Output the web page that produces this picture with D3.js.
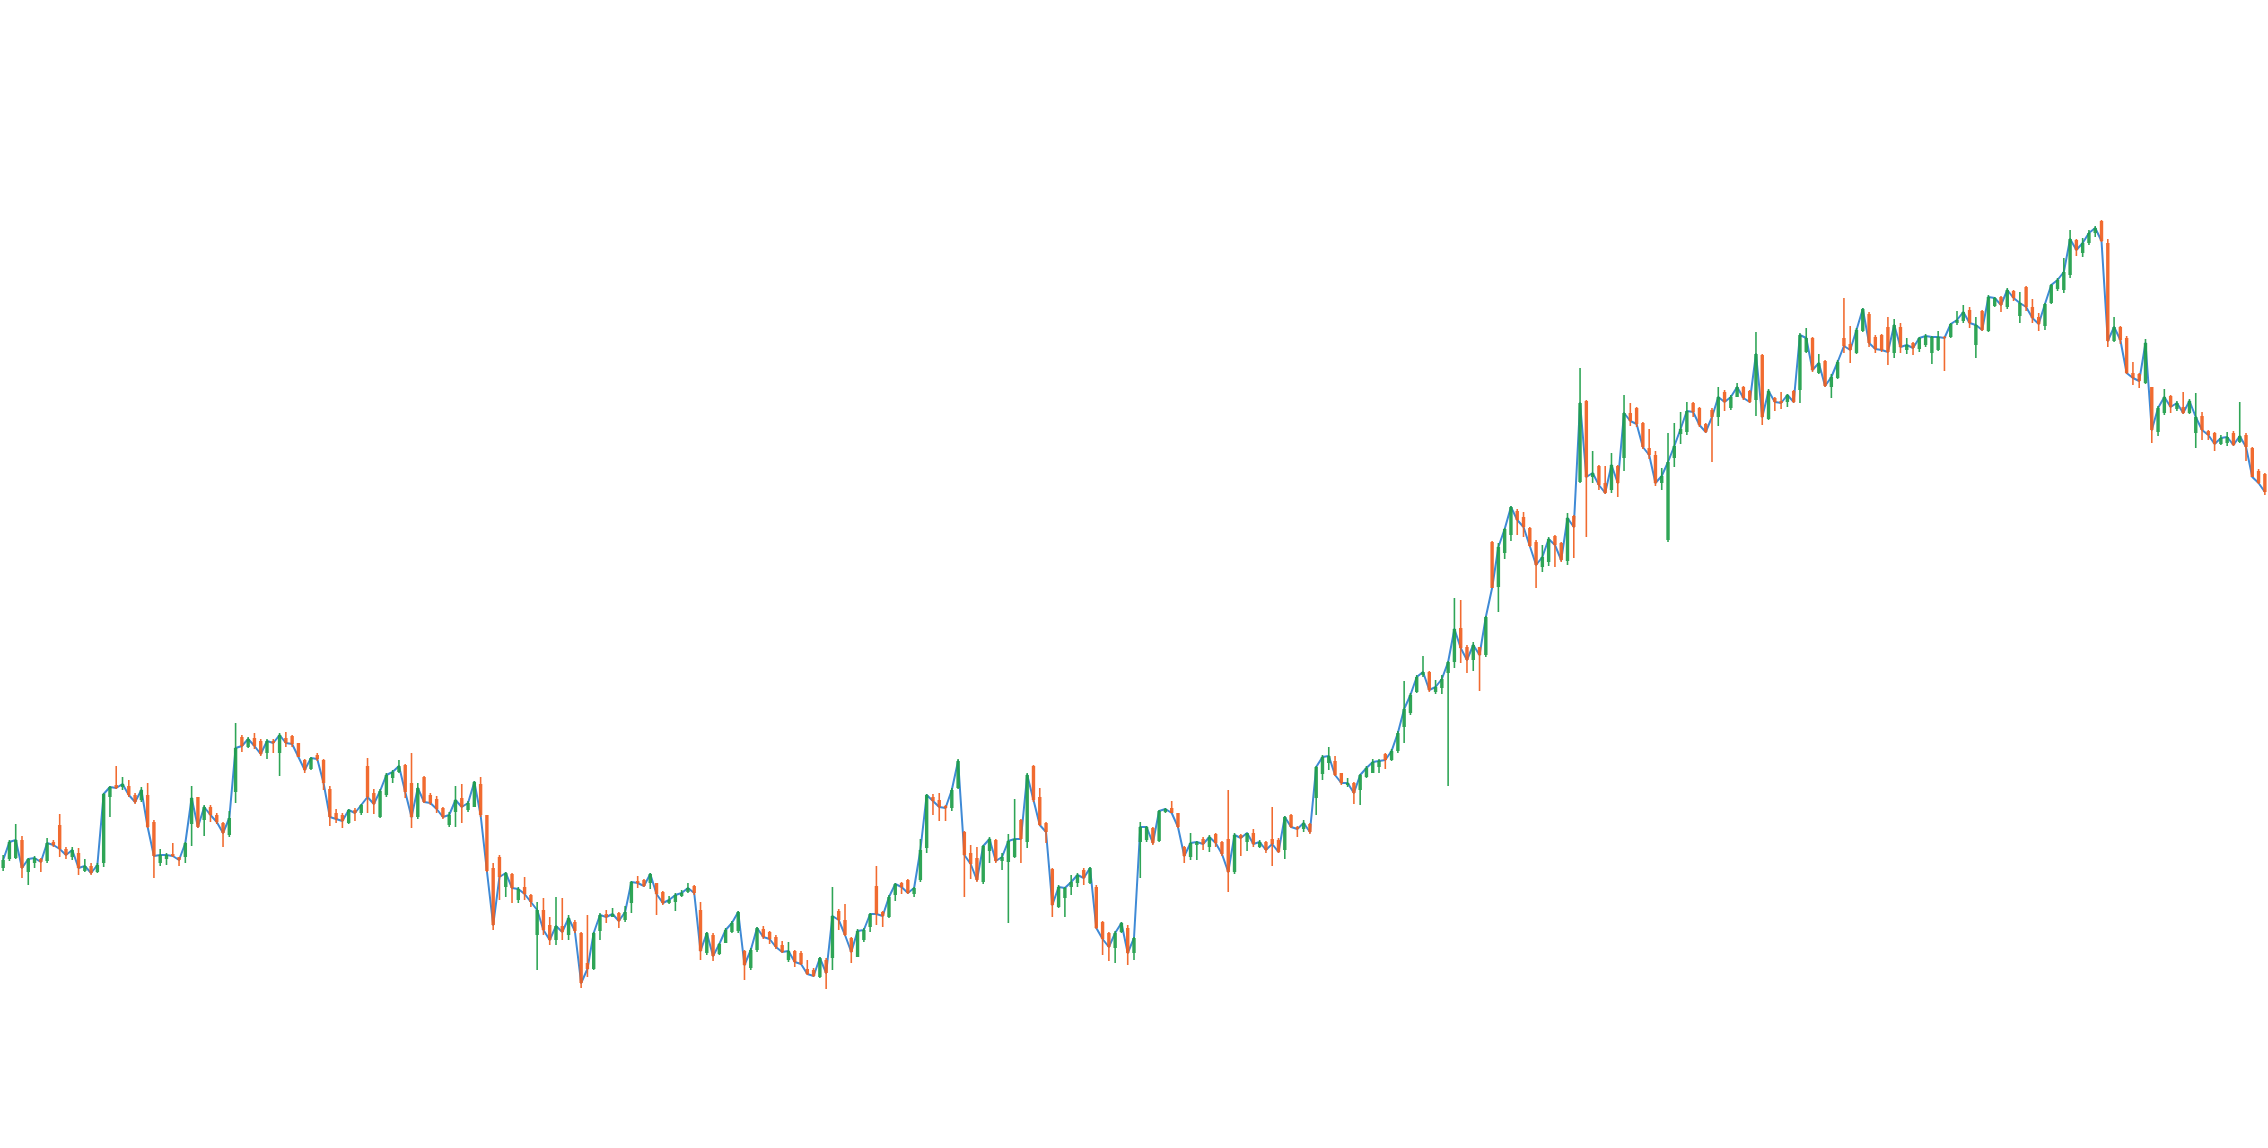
<!DOCTYPE html>
<html>
<head>
<meta charset="utf-8">
<script src="https://cdn.jsdelivr.net/npm/d3@7"></script>
<style>
  body { margin: 0; background: #fff; }
</style>
</head>
<body>
<div id="canvas"></div>
<script>
// daily prices (no axis shown)
const open = [
  13.2, 14.1, 14.2, 16.0, 12.8, 13.7, 14.1, 13.9, 15.8, 17.5,
  15.1, 14.3, 14.7, 12.9, 13.4, 12.8, 13.7, 20.3, 21.5, 21.3,
  21.4, 20.5, 20.0, 20.5, 17.8, 13.7, 14.1, 14.6, 14.3, 14.3,
  17.6, 20.3, 18.0, 19.3, 18.5, 17.7, 16.5, 20.8, 26.3, 25.3,
  26.2, 25.9, 24.7, 25.9, 24.7, 26.2, 26.4, 25.7, 24.0, 23.1,
  24.5, 24.0, 21.1, 18.7, 18.5, 17.7, 19.0, 18.7, 23.4, 20.7,
  18.3, 20.5, 22.2, 22.8, 23.5, 21.7, 18.3, 22.3, 20.5, 20.1,
  19.2, 17.5, 18.8, 20.2, 19.0, 19.3, 21.6, 18.5, 13.2, 14.3,
  11.3, 12.6, 10.0, 11.3, 10.5, 6.5, 9.0, 7.5, 6.0, 7.4,
  6.5, 7.8, 6.7, 3.7, 3.1, 6.9, 8.6, 8.3, 8.7, 8.0,
  9.7, 11.9, 12.0, 11.7, 11.7, 10.8, 9.7, 9.8, 10.4, 10.8,
  11.4, 9.0, 4.7, 6.5, 4.6, 5.7, 6.8, 6.9, 4.9, 3.2,
  5.0, 7.1, 6.8, 6.3, 5.5, 4.0, 4.9, 4.7, 3.1, 3.0,
  2.3, 4.0, 4.2, 8.9, 8.0, 6.2, 4.3, 6.0, 7.3, 11.4,
  8.8, 8.3, 10.5, 11.7, 12.0, 10.6, 12.0, 15.2, 20.3, 20.0,
  19.4, 19.2, 21.2, 16.8, 14.7, 14.2, 11.8, 14.9, 16.0, 13.9,
  13.8, 14.3, 18.0, 15.8, 23.4, 20.3, 17.7, 13.1, 9.3, 10.2,
  11.3, 11.7, 13.0, 11.7, 11.3, 7.8, 6.7, 5.2, 6.8, 7.2,
  4.7, 15.8, 16.0, 17.2, 15.9, 18.8, 19.2, 18.7, 15.3, 14.3,
  15.5, 16.1, 15.3, 16.6, 15.8, 16.1, 12.8, 16.5, 15.8, 16.7,
  15.3, 15.8, 16.1, 16.0, 15.0, 18.5, 17.3, 17.1, 17.6, 20.2,
  22.6, 23.7, 23.9, 22.7, 21.5, 21.7, 21.0, 22.3, 22.7, 23.3,
  24.6, 24.0, 24.9, 27.3, 28.7, 30.8, 32.5, 32.8, 30.8, 31.2,
  32.7, 33.8, 37.2, 35.3, 34.0, 35.3, 34.5, 45.8, 41.3, 44.7,
  46.5, 48.9, 48.3, 47.2, 45.8, 43.3, 43.8, 46.4, 45.7, 43.9,
  48.4, 51.8, 59.9, 52.3, 53.4, 51.7, 51.0, 53.4, 54.2, 58.7,
  59.2, 57.7, 55.2, 54.5, 51.7, 46.0, 54.2, 56.6, 56.8, 59.7,
  59.2, 57.6, 59.0, 58.3, 60.8, 59.2, 60.3, 61.3, 60.9, 60.0,
  64.5, 58.1, 60.2, 59.9, 59.8, 60.9, 61.0, 64.8, 66.2, 62.7,
  63.9, 61.3, 62.2, 66.2, 65.6, 64.7, 66.9, 68.6, 66.3, 66.5,
  67.3, 64.7, 67.3, 65.0, 65.7, 65.1, 65.5, 64.7, 65.0, 66.3,
  66.3, 67.7, 67.9, 69.0, 65.5, 68.9, 66.9, 69.4, 70.3, 69.3,
  70.9, 68.4, 71.3, 69.3, 68.3, 67.4, 69.7, 71.1, 71.0, 72.5,
  76.0, 74.7, 75.7, 76.7, 77.9, 75.7, 65.9, 67.3, 66.2, 62.7,
  62.6, 61.7, 61.3, 56.8, 58.7, 60.4, 59.1, 59.3, 58.7, 56.7,
  58.4, 56.9, 56.7, 55.6, 55.7, 56.7, 55.8, 56.5, 55.2, 52.9, 52.6
];
const high = [
  14.5, 16.0, 17.6, 16.4, 14.2, 14.4, 14.2, 16.2, 16.0, 18.6,
  15.3, 15.3, 15.2, 14.1, 13.7, 13.7, 20.7, 21.4, 23.4, 22.3,
  22.0, 20.7, 21.3, 21.7, 18.0, 15.1, 14.7, 15.7, 14.3, 15.8,
  21.4, 20.3, 19.5, 19.5, 18.7, 17.8, 18.9, 27.7, 26.5, 26.3,
  26.7, 26.1, 26.1, 26.1, 26.7, 26.8, 26.5, 25.7, 24.1, 24.3,
  24.7, 24.1, 21.4, 19.1, 18.7, 19.1, 19.2, 19.6, 24.2, 21.1,
  21.1, 22.7, 23.0, 24.0, 23.6, 24.7, 21.7, 22.4, 20.7, 20.4,
  19.3, 18.8, 21.4, 21.6, 19.9, 21.9, 22.3, 18.5, 13.7, 14.5,
  12.8, 12.7, 11.3, 12.3, 10.6, 9.8, 10.2, 8.3, 10.3, 10.2,
  8.5, 8.0, 6.8, 8.5, 6.8, 8.7, 9.0, 9.2, 8.8, 9.4,
  11.9, 12.4, 12.1, 12.7, 11.7, 10.9, 10.4, 10.7, 11.0, 11.7,
  11.5, 9.8, 6.8, 6.7, 5.7, 7.2, 7.9, 8.9, 5.0, 5.2,
  7.3, 7.4, 6.9, 6.5, 5.9, 5.8, 5.0, 4.9, 4.0, 3.2,
  4.3, 4.2, 11.3, 9.1, 9.6, 6.3, 7.1, 7.2, 8.7, 13.4,
  8.9, 10.5, 11.7, 11.8, 12.1, 11.3, 16.1, 20.6, 20.6, 20.7,
  19.5, 21.2, 24.1, 16.9, 15.5, 15.3, 15.5, 16.3, 16.1, 14.7,
  16.6, 20.1, 18.1, 22.7, 23.5, 21.2, 17.8, 13.2, 11.5, 11.3,
  12.5, 12.7, 13.2, 13.3, 11.5, 7.9, 6.8, 6.9, 7.8, 7.5,
  6.3, 17.8, 17.4, 17.3, 19.0, 19.2, 19.9, 18.7, 15.4, 16.7,
  15.9, 16.3, 16.5, 16.7, 15.9, 21.0, 16.7, 16.6, 16.7, 17.1,
  16.0, 15.9, 19.3, 16.2, 18.4, 18.6, 17.4, 18.0, 17.7, 23.4,
  24.5, 25.3, 24.4, 22.7, 22.2, 21.8, 22.6, 23.4, 24.1, 24.1,
  24.7, 25.1, 26.9, 31.9, 30.7, 32.5, 34.4, 32.9, 32.0, 32.5,
  33.9, 40.2, 40.0, 35.5, 35.8, 35.3, 38.4, 45.9, 45.7, 47.2,
  49.4, 49.1, 48.8, 47.3, 46.0, 45.5, 46.3, 46.5, 45.8, 48.7,
  48.5, 63.2, 60.0, 54.9, 53.5, 53.4, 54.7, 53.5, 60.5, 59.7,
  59.3, 57.8, 57.1, 54.9, 53.2, 56.7, 57.7, 58.8, 59.8, 59.8,
  59.3, 57.7, 59.2, 61.3, 61.0, 60.5, 61.7, 61.4, 61.0, 66.8,
  64.6, 61.1, 60.3, 60.8, 60.6, 61.0, 66.7, 67.2, 66.3, 64.6,
  64.0, 62.6, 64.0, 70.2, 67.4, 67.2, 69.2, 68.8, 66.5, 66.6,
  68.3, 68.1, 67.7, 66.2, 65.8, 66.3, 66.6, 66.4, 66.9, 66.4,
  67.7, 68.9, 69.5, 69.3, 68.3, 69.0, 70.5, 70.3, 70.4, 71.2,
  71.0, 70.8, 71.4, 70.1, 68.7, 69.7, 71.6, 72.2, 74.2, 77.0,
  76.1, 76.2, 77.0, 77.4, 78.0, 76.1, 68.3, 67.4, 66.4, 63.8,
  62.7, 66.1, 61.3, 59.4, 61.1, 60.5, 59.9, 60.8, 60.1, 60.7,
  58.8, 57.0, 56.8, 56.5, 56.8, 56.9, 59.8, 56.7, 55.3, 53.1, 52.7
];
const low = [
  12.9, 13.9, 14.1, 12.2, 11.5, 13.2, 12.8, 13.7, 15.3, 14.3,
  14.1, 14.0, 12.5, 12.8, 12.5, 12.7, 13.3, 18.3, 21.1, 21.0,
  20.3, 19.6, 19.8, 17.2, 12.2, 13.4, 13.5, 14.3, 13.4, 13.7,
  15.4, 17.2, 16.4, 17.8, 17.6, 15.3, 16.3, 19.7, 24.8, 25.2,
  25.1, 24.4, 24.1, 24.7, 22.4, 25.3, 25.3, 24.3, 22.7, 23.0,
  23.9, 21.0, 17.4, 17.7, 17.2, 17.6, 17.9, 18.5, 18.7, 18.6,
  18.2, 20.3, 21.7, 22.7, 20.2, 17.2, 18.1, 19.7, 19.5, 18.7,
  18.1, 17.3, 17.3, 17.7, 18.8, 19.3, 18.3, 12.8, 7.0, 10.0,
  10.3, 9.7, 9.7, 10.0, 9.3, 3.0, 6.5, 5.5, 5.5, 6.0,
  6.0, 6.7, 1.2, 2.3, 3.0, 6.0, 7.7, 8.3, 7.2, 7.8,
  8.7, 11.2, 11.3, 11.1, 8.5, 9.5, 9.6, 8.9, 10.3, 10.7,
  10.5, 4.0, 4.5, 3.9, 4.5, 5.7, 6.7, 6.7, 2.0, 3.0,
  4.8, 6.1, 5.6, 5.1, 4.7, 3.8, 3.3, 3.5, 2.5, 2.3,
  2.2, 1.1, 3.0, 7.0, 6.4, 3.7, 4.3, 5.8, 6.8, 7.5,
  7.3, 8.2, 9.9, 10.6, 10.6, 10.3, 11.8, 14.7, 18.5, 17.9,
  17.9, 18.9, 21.1, 10.3, 12.1, 11.8, 11.6, 13.7, 13.7, 13.0,
  7.7, 14.2, 13.7, 15.2, 19.8, 17.4, 15.7, 8.3, 9.2, 8.3,
  10.5, 11.3, 11.5, 11.6, 7.1, 4.5, 3.9, 3.7, 6.7, 3.5,
  4.0, 12.2, 15.8, 15.5, 15.8, 18.7, 18.7, 17.2, 13.7, 14.0,
  14.0, 15.0, 14.8, 15.3, 14.4, 10.8, 12.6, 14.4, 14.9, 15.3,
  15.2, 14.7, 13.4, 14.7, 14.1, 17.2, 16.3, 16.8, 16.6, 18.5,
  22.0, 23.0, 22.4, 21.5, 21.3, 19.6, 19.5, 22.2, 22.7, 22.7,
  23.1, 23.9, 24.7, 25.7, 28.5, 30.7, 32.3, 30.8, 30.6, 30.6,
  21.4, 33.2, 33.7, 32.7, 32.9, 30.9, 34.3, 41.2, 38.8, 44.1,
  45.9, 46.5, 46.3, 45.3, 41.2, 42.8, 43.4, 43.3, 43.8, 43.5,
  44.2, 51.7, 46.3, 51.7, 51.0, 50.6, 50.7, 50.3, 52.9, 57.4,
  57.3, 55.1, 54.1, 51.4, 51.0, 45.8, 53.3, 55.6, 56.5, 58.3,
  57.3, 56.7, 53.8, 57.4, 58.9, 59.0, 60.3, 60.0, 59.7, 58.4,
  57.5, 58.0, 58.9, 59.1, 59.3, 59.7, 59.7, 64.7, 62.8, 62.6,
  61.3, 60.2, 62.1, 64.7, 63.7, 64.6, 66.8, 65.3, 64.7, 64.8,
  63.5, 64.2, 64.7, 64.6, 64.5, 64.8, 65.3, 63.6, 64.9, 62.9,
  66.2, 67.5, 67.7, 67.2, 64.2, 66.9, 66.8, 69.3, 68.8, 69.1,
  69.9, 67.7, 68.9, 67.7, 66.9, 67.0, 69.6, 70.9, 70.7, 72.2,
  74.4, 74.3, 75.5, 76.3, 75.8, 65.3, 65.8, 65.6, 62.6, 61.5,
  61.2, 61.6, 55.7, 56.4, 58.5, 58.7, 58.9, 58.6, 58.6, 55.2,
  56.0, 56.0, 54.9, 55.5, 55.4, 55.4, 55.7, 53.9, 52.3, 51.6, 50.5
];
const close = [
  14.0, 15.8, 16.0, 13.2, 14.1, 14.2, 13.8, 15.7, 15.5, 15.1,
  14.5, 15.0, 13.2, 13.4, 12.7, 13.5, 20.6, 21.3, 21.2, 21.6,
  20.5, 19.8, 21.0, 17.3, 14.4, 14.5, 14.5, 14.4, 14.0, 15.7,
  20.2, 17.3, 19.3, 18.5, 17.8, 16.7, 18.2, 25.2, 25.4, 26.1,
  25.4, 24.6, 25.9, 25.7, 26.5, 25.7, 25.6, 24.3, 23.0, 24.2,
  24.1, 21.7, 18.3, 18.1, 17.9, 19.0, 18.7, 19.5, 20.3, 19.6,
  20.9, 22.5, 22.8, 23.4, 20.8, 18.3, 21.2, 19.8, 19.7, 19.1,
  18.3, 18.5, 20.0, 19.3, 19.7, 21.8, 18.5, 12.9, 7.5, 12.3,
  12.7, 11.2, 11.1, 10.6, 9.8, 9.0, 7.0, 6.0, 7.4, 6.8,
  8.2, 6.9, 1.7, 3.1, 6.7, 8.5, 8.3, 8.6, 7.9, 8.8,
  11.8, 11.7, 11.4, 12.6, 10.6, 9.7, 10.0, 10.5, 10.7, 11.2,
  10.7, 4.9, 6.7, 4.4, 5.6, 7.0, 7.7, 8.8, 3.5, 5.0,
  7.2, 6.3, 6.1, 5.3, 4.8, 4.9, 3.8, 3.6, 2.6, 2.4,
  4.2, 2.7, 8.4, 8.0, 6.5, 4.8, 6.9, 7.0, 8.6, 8.6,
  8.4, 10.3, 11.6, 11.3, 10.7, 11.2, 15.0, 20.5, 19.9, 19.3,
  19.2, 21.0, 23.9, 14.5, 13.6, 12.0, 15.4, 16.1, 13.9, 14.3,
  15.9, 16.1, 16.1, 22.5, 20.0, 17.5, 16.8, 9.5, 11.3, 11.2,
  11.8, 12.5, 12.2, 13.2, 7.2, 6.1, 5.3, 6.7, 7.7, 4.7,
  6.2, 17.3, 17.3, 15.7, 18.9, 19.1, 18.7, 17.3, 14.4, 15.7,
  15.8, 15.6, 16.3, 15.7, 14.6, 12.8, 16.5, 16.2, 16.7, 15.6,
  15.8, 15.0, 15.6, 14.8, 18.3, 17.3, 17.1, 17.7, 16.8, 23.3,
  24.3, 24.4, 22.5, 21.7, 21.7, 20.7, 22.5, 23.2, 23.8, 23.9,
  24.0, 24.9, 26.7, 29.1, 30.5, 32.3, 32.8, 31.0, 31.3, 32.1,
  33.8, 37.1, 35.2, 34.0, 35.5, 34.5, 38.3, 41.2, 45.3, 47.1,
  49.3, 48.0, 47.3, 45.4, 43.5, 44.3, 46.1, 45.5, 44.0, 48.2,
  47.3, 59.7, 52.3, 52.7, 51.5, 50.7, 53.5, 51.7, 58.7, 57.9,
  57.6, 55.3, 54.5, 51.7, 52.4, 53.8, 55.4, 57.1, 58.9, 58.8,
  57.5, 56.8, 58.3, 60.3, 59.8, 60.3, 61.3, 60.2, 59.8, 64.6,
  58.3, 60.9, 59.8, 59.7, 60.5, 59.8, 66.5, 66.2, 63.0, 63.7,
  61.4, 62.3, 63.8, 65.4, 65.0, 67.0, 69.1, 65.7, 65.1, 65.0,
  64.8, 67.5, 65.3, 65.5, 65.2, 66.2, 66.4, 66.3, 66.3, 66.2,
  67.6, 68.0, 68.8, 67.7, 67.5, 67.0, 70.3, 70.2, 69.5, 71.0,
  70.2, 69.7, 69.3, 68.2, 67.6, 69.6, 71.5, 72.0, 72.8, 76.1,
  75.0, 75.7, 76.7, 77.2, 75.9, 65.9, 67.3, 66.0, 62.7, 62.2,
  61.9, 65.7, 57.0, 59.2, 60.3, 59.3, 59.7, 58.7, 59.9, 58.3,
  57.0, 56.5, 55.6, 56.2, 56.3, 55.5, 56.4, 55.3, 52.3, 51.7, 50.8
];

const width = 2268;
const height = 1148;
const upColor = "#1e9e48";
const downColor = "#f05f1f";

const data = close.map((c, i) => ({ i: i, o: open[i], h: high[i], l: low[i], c: c }));

const svg = d3.select("#canvas").append("svg")
  .attr("width", width)
  .attr("height", height);

const x = d3.scaleBand()
  .domain(data.map(d => d.i))
  .range([0, width]);

const y = d3.scaleLinear()
  .domain([0, 100])
  .range([1000, 0]);

const cx = d => x(d.i) + x.bandwidth() / 2;
const bodyW = 3.4;

// close line under the candles
svg.append("path")
  .datum(data)
  .attr("fill", "none")
  .attr("stroke", "#3f8ad6")
  .attr("stroke-width", 2)
  .attr("stroke-linejoin", "round")
  .attr("d", d3.line().x(cx).y(d => y(d.c)));

const candle = svg.append("g")
  .selectAll("g")
  .data(data)
  .join("g")
  .attr("opacity", 0.92);

candle.append("line")
  .attr("x1", cx).attr("x2", cx)
  .attr("y1", d => y(d.h))
  .attr("y2", d => y(d.l))
  .attr("stroke", d => d.c >= d.o ? upColor : downColor)
  .attr("stroke-width", 1.6);

candle.append("rect")
  .attr("x", d => cx(d) - bodyW / 2)
  .attr("width", bodyW)
  .attr("y", d => y(Math.max(d.o, d.c)))
  .attr("height", d => Math.max(1, Math.abs(y(d.o) - y(d.c))))
  .attr("fill", d => d.c >= d.o ? upColor : downColor);
</script>
</body>
</html>
